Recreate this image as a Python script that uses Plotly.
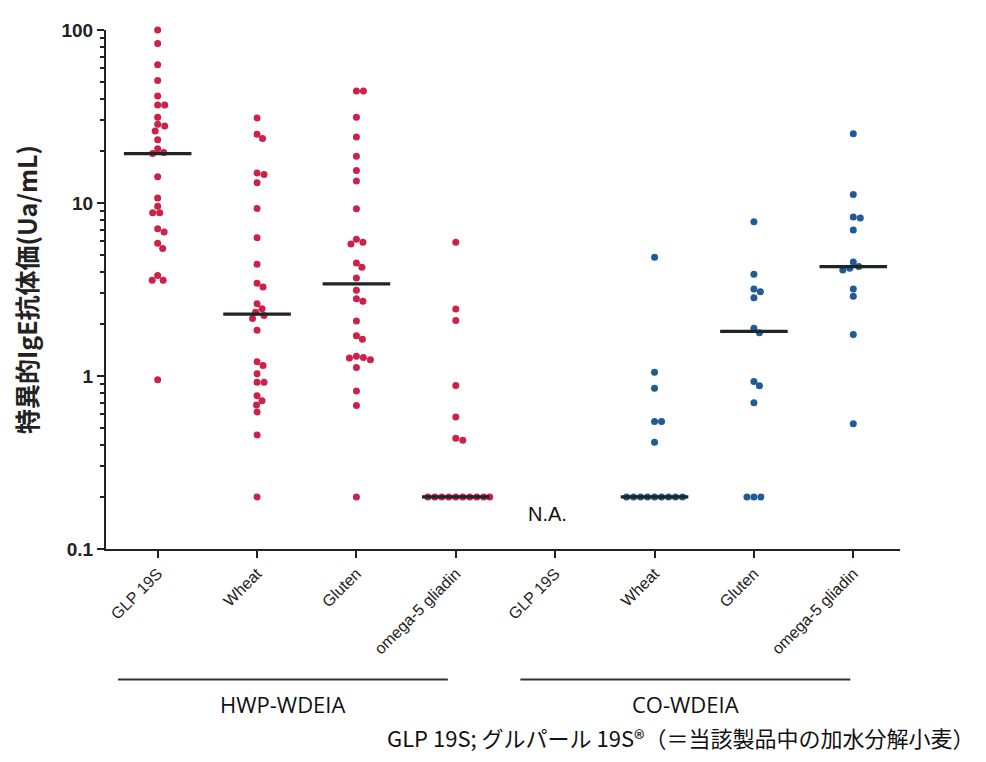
import numpy as np
import plotly.graph_objects as go

# ---------------- data ----------------
categories = ["GLP 19S", "Wheat", "Gluten", "omega-5 gliadin",
              "GLP 19S", "Wheat", "Gluten", "omega-5 gliadin"]
groups = ["HWP-WDEIA", "CO-WDEIA"]

hwp_glp19s = [100, 83.5, 63, 51, 41.6, 36.8, 36.8, 31.3, 28.5, 27.9, 26.1, 23.2, 20.6, 19.6,
              19.3, 14.2, 10.7, 9.58, 8.77, 8.77, 7.1, 6.8, 5.85, 5.46, 3.81, 3.58, 3.58, 0.95]
hwp_wheat = [31, 25, 23.6, 14.9, 14.6, 13.1, 9.3, 6.3, 4.43, 3.44, 3.27, 2.62, 2.45, 2.34,
             2.24, 2.15, 1.84, 1.21, 1.15, 1.03, 0.92, 0.92, 0.77, 0.72, 0.68, 0.62, 0.456, 0.2]
hwp_gluten = [44.4, 44.4, 31.3, 24.1, 18.6, 15.4, 13.4, 9.25, 6.17, 5.94, 5.8, 4.5, 4.25, 3.68,
              3.13, 2.8, 2.7, 2.08, 1.71, 1.63, 1.30, 1.28, 1.27, 1.24, 1.12, 0.82, 0.676, 0.2]
hwp_omega5 = [5.94, 2.44, 2.09, 0.88, 0.58, 0.436, 0.425,
              0.2, 0.2, 0.2, 0.2, 0.2, 0.2, 0.2, 0.2, 0.2, 0.2]
co_glp19s = []  # N.A.
co_wheat = [4.85, 1.05, 0.85, 0.546, 0.546, 0.414,
            0.2, 0.2, 0.2, 0.2, 0.2, 0.2, 0.2, 0.2, 0.2]
co_gluten = [7.79, 3.88, 3.18, 3.07, 2.83, 1.89, 1.78, 0.93, 0.877, 0.70, 0.2, 0.2, 0.2]
co_omega5 = [25.1, 11.2, 8.31, 8.2, 6.98, 4.56, 4.3, 4.2, 4.1, 3.18, 2.89, 1.74, 0.53]

series = [hwp_glp19s, hwp_wheat, hwp_gluten, hwp_omega5,
          co_glp19s, co_wheat, co_gluten, co_omega5]
medians = [19.3, 2.28, 3.41, 0.2, None, 0.2, 1.81, 4.29]
series_group = [0, 0, 0, 0, 1, 1, 1, 1]

yticks = [0.1, 1, 10, 100]
ytick_text = ["0.1", "1", "10", "100"]

RED = "#cc2247"
BLUE = "#1f5b98"
MEDIAN_COLOR = "#1c2624"

# ---------------- layout geometry ----------------
# page body has an 8px margin, so the figure is a bit smaller than the window
W, H = 970, 746
ML, MT = 97, 16
plot_w, plot_h = 795, 525
MR = W - ML - plot_w
MB = H - MT - plot_h
XMIN, XMAX = -0.52, 7.47
YMIN, YMAX = -1, 2
px_per_x = plot_w / (XMAX - XMIN)
px_per_dec = plot_h / (YMAX - YMIN)


def swarm(vals, d=7.0, max_half=34.0):
    """simple beeswarm offsets (in x-data units)"""
    vals = np.asarray(vals, dtype=float)
    ys = np.log10(vals) * px_per_dec
    order = np.argsort(-vals, kind="stable")
    placed = []
    offs = np.zeros(len(vals))
    steps = [0.0]
    s = 0.5
    while s <= 60:
        steps += [s, -s]
        s += 0.5
    for i in order:
        y = ys[i]
        chosen = 0.0
        for c in steps:
            ok = all((c - px) ** 2 + (y - py) ** 2 >= d * d for px, py in placed)
            if ok:
                chosen = c
                break
        chosen = max(-max_half, min(max_half, chosen))
        placed.append((chosen, y))
        offs[i] = chosen / px_per_x
    return offs


fig = go.Figure()

for k, vals in enumerate(series):
    if not vals:
        continue
    offs = swarm(vals)
    color = RED if series_group[k] == 0 else BLUE
    fig.add_trace(go.Scatter(
        x=k + offs, y=vals, mode="markers",
        marker=dict(size=7, color=color, line=dict(width=0)),
        cliponaxis=False, showlegend=False, hoverinfo="y"))

# median bars
for k, m in enumerate(medians):
    if m is None:
        continue
    fig.add_trace(go.Scatter(
        x=[k - 0.34, k + 0.34], y=[m, m], mode="lines",
        line=dict(color=MEDIAN_COLOR, width=3.4),
        showlegend=False, hoverinfo="skip"))

# group brackets
group_spans = [(-0.40, 2.92), (3.65, 6.97)]
for (x0, x1), g in zip(group_spans, groups):
    fig.add_shape(type="line", xref="x", yref="paper", x0=x0, x1=x1,
                  y0=-0.2514, y1=-0.2514, line=dict(color="#333333", width=2))
    fig.add_annotation(x=(x0 + x1) / 2, y=-0.299, xref="x", yref="paper",
                       text=g, showarrow=False, yanchor="middle",
                       font=dict(family="Open Sans", size=22, color="#111111"))

fig.add_annotation(x=3.92, y=-0.8, xref="x", yref="y", text="N.A.", showarrow=False,
                   font=dict(family="Liberation Sans", size=20, color="#111111"))

fig.add_annotation(x=(W - 2 - ML) / plot_w, y=-(H - MT - plot_h + 3) / plot_h,
                   xref="paper", yref="paper",
                   text="GLP 19S; グルパール 19S®（＝当該製品中の加水分解小麦）",
                   showarrow=False, xanchor="right", yanchor="bottom",
                   font=dict(family="Noto Sans CJK JP", size=22, color="#111111"))

minor_vals = [m * 10.0 ** e for e in (-1, 0, 1) for m in (2, 3, 4, 5, 6, 7, 8, 9)]

fig.update_layout(
    width=W, height=H,
    margin=dict(l=ML, r=MR, t=MT, b=MB),
    plot_bgcolor="white", paper_bgcolor="white",
    xaxis=dict(range=[XMIN, XMAX], tickmode="array", tickvals=list(range(8)),
               ticktext=categories, tickangle=-45, showgrid=False, zeroline=False,
               showline=True, linecolor="#222222", linewidth=2,
               ticks="outside", ticklen=7, tickwidth=2, tickcolor="#222222",
               tickfont=dict(family="Liberation Sans", size=16, color="#222222")),
    yaxis=dict(type="log", range=[YMIN, YMAX], tickmode="array", tickvals=yticks,
               ticktext=ytick_text, showgrid=False, zeroline=False,
               showline=True, linecolor="#222222", linewidth=2,
               ticks="outside", ticklen=7, tickwidth=2, tickcolor="#222222",
               minor=dict(tickmode="array", tickvals=minor_vals, ticks="outside",
                          ticklen=4, tickwidth=1.5, tickcolor="#222222", showgrid=False),
               tickfont=dict(family="Liberation Sans", size=19, color="#222222",
                             weight="bold"),
               title=dict(text="特異的IgE抗体価(Ua/mL)", standoff=24,
                          font=dict(family="Noto Sans CJK JP", size=25,
                                    color="#222222", weight="bold"))),
)

fig.write_html("out.html")
